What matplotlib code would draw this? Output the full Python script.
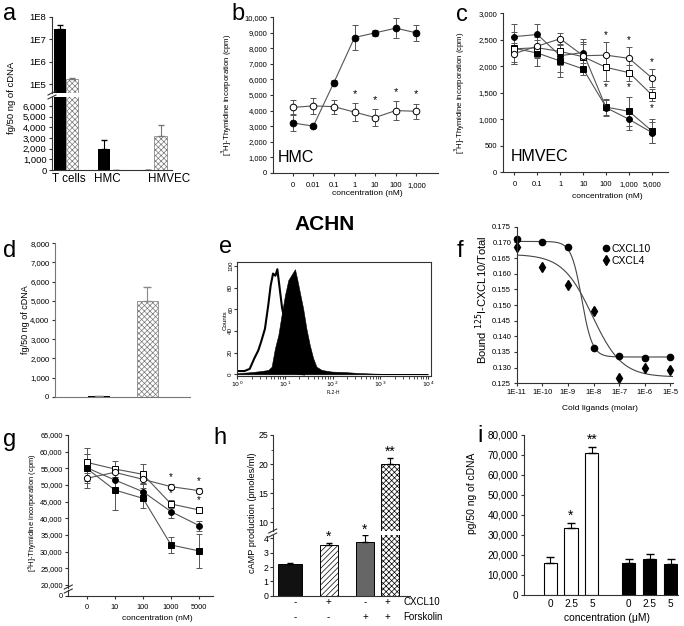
import numpy as np
import matplotlib
matplotlib.use("Agg")
import matplotlib.pyplot as plt
from matplotlib.lines import Line2D
from matplotlib.ticker import FixedLocator, NullFormatter

###########################
# Data
###########################

# a: receptor transcripts (black / hatched bars)
A_CATS = ['T cells', 'HMC', 'HMVEC']
A_BLACK = [2.8e7, 2000, 40]
A_BLACK_ERR = [1.7e7, 800, 0]
A_HATCH = [1.75e5, 40, 3200]
A_HATCH_ERR = [1.0e4, 0, 1050]

# b: HMC proliferation
B_CONC = ['0', '0.01', '0.1', '1', '10', '100', '1,000']
B_FILLED = [3200, 3000, 5800, 8700, 9000, 9300, 9000]
B_FILLED_ERR = [500, 100, 150, 800, 200, 650, 500]
B_OPEN = [4200, 4300, 4250, 3900, 3550, 4000, 3950]
B_OPEN_ERR = [450, 500, 450, 600, 550, 600, 500]
B_STARS = [3, 4, 5, 6]

# c: HMVEC proliferation
C_CONC = ['0', '0.1', '1', '10', '100', '1,000', '5,000']
C_OPEN_CIRC = [2240, 2380, 2520, 2200, 2210, 2150, 1780]
C_OPEN_CIRC_ERR = [200, 200, 100, 250, 250, 220, 170]
C_OPEN_SQ = [2330, 2350, 2280, 2180, 1980, 1880, 1460]
C_OPEN_SQ_ERR = [250, 200, 250, 250, 250, 150, 120]
C_FILL_CIRC = [2560, 2600, 2200, 2260, 1220, 1000, 750]
C_FILL_CIRC_ERR = [230, 200, 300, 250, 150, 200, 200]
C_FILL_SQ = [2340, 2250, 2100, 1950, 1230, 1150, 780]
C_FILL_SQ_ERR = [300, 250, 300, 120, 150, 280, 230]
C_STARS = [4, 5, 6]

# d: ACHN transcripts
D_VALUES = [60, 5000]
D_ERR = [0, 700]

# e: flow cytometry histograms (log10 FL2-H, counts)
E_LOG_OPEN = [0.0, 0.15, 0.26, 0.36, 0.44, 0.50, 0.58, 0.65, 0.70, 0.75, 0.80,
              0.84, 0.89, 0.94, 1.00, 1.07, 1.14, 1.25, 1.40]
E_CNT_OPEN = [3, 3, 5, 15, 22, 30, 42, 64, 82, 93, 91, 97, 79, 61, 49, 21, 5, 1, 0]
E_LOG_FILLED = [0.0, 0.3, 0.5, 0.65, 0.72, 0.79, 0.86, 0.93, 1.00, 1.07, 1.14,
                1.21, 1.26, 1.31, 1.38, 1.45, 1.52, 1.59, 1.66, 1.77, 1.98,
                2.27, 2.54, 2.90, 3.24, 3.60, 4.0]
E_CNT_FILLED = [1, 2, 3, 4, 7, 24, 36, 55, 73, 87, 92, 97, 87, 76, 61, 42, 27,
                15, 7, 4, 2.5, 2, 1.2, 0.6, 0.3, 0.1, 0]

# f: competition binding
F_CONC = [1e-11, 1e-10, 1e-9, 1e-8, 1e-7, 1e-6, 1e-5]
F_CXCL10 = [0.1710, 0.1702, 0.1684, 0.1362, 0.1338, 0.1332, 0.1335]
F_CXCL4 = [0.1684, 0.1620, 0.1563, 0.1482, 0.1266, 0.1298, 0.1291]
# fitted 4PL parameters: top, bottom, logEC50, hill
F_FIT_CXCL10 = (0.1703, 0.1334, -8.46, 2.1)
F_FIT_CXCL4 = (0.1662, 0.1270, -8.05, 0.75)

# g: ACHN proliferation
G_CONC = ['0', '10', '100', '1000', '5000']
G_OPEN_CIRC = [52000, 53800, 51700, 49500, 48300]
G_OPEN_CIRC_ERR = [1500, 1500, 1500, 800, 800]
G_OPEN_SQ = [56800, 54800, 53200, 44300, 42500]
G_OPEN_SQ_ERR = [2500, 2500, 3000, 1200, 800]
G_FILL_CIRC = [55200, 51500, 48000, 42000, 37800]
G_FILL_CIRC_ERR = [4000, 3000, 2500, 2000, 1500]
G_FILL_SQ = [55000, 48500, 46000, 32000, 30200]
G_FILL_SQ_ERR = [6000, 6000, 3000, 2500, 5200]
G_STARS = [3, 4]

# h: cAMP
H_CAMP = [2.2, 3.5, 3.75, 20.1]
H_ERR = [0.08, 0.2, 0.45, 1.0]
H_CXCL10 = ['-', '+', '-', '+']
H_FORSKOLIN = ['-', '-', '+', '+']
H_STARS = ['', '*', '*', '**']

# i: transcripts vs concentration
I_LABELS = ['0', '2.5', '5', '0', '2.5', '5']
I_VALUES = [16000, 33500, 71000, 16000, 18000, 15500]
I_ERR = [3000, 2500, 3000, 2200, 2500, 2500]
I_STARS = ['', '*', '**', '', '', '']

###########################
# Setup
###########################

W, H = 684, 626
plt.rcParams.update({
    'font.family': ['Liberation Sans', 'DejaVu Sans'],
    'hatch.linewidth': 0.5,
    'axes.linewidth': 0.8,
    'axes.edgecolor': '#333333',
    'xtick.color': '#333333',
    'ytick.color': '#333333',
    'xtick.labelcolor': 'black',
    'ytick.labelcolor': 'black',
    'xtick.major.size': 3,
    'ytick.major.size': 3,
    'xtick.major.width': 0.8,
    'ytick.major.width': 0.8,
})

fig = plt.figure(figsize=(W / 100, H / 100), dpi=100)
LINE = '#555555'


def add_ax(left, top, right, bottom):
    return fig.add_axes([left / W, 1 - bottom / H, (right - left) / W, (bottom - top) / H])


def ftext(x, y, s, **kw):
    kw.setdefault('ha', 'center')
    kw.setdefault('va', 'center')
    fig.text(x / W, 1 - y / H, s, **kw)


def brk(x, y):
    for dy in (-2, 2):
        fig.add_artist(Line2D([(x - 4) / W, (x + 4) / W],
                              [1 - (y + dy + 2) / H, 1 - (y + dy - 2) / H],
                              color='#333333', lw=0.8))


def clean(ax, bottom=True):
    ax.spines['top'].set_visible(False)
    ax.spines['right'].set_visible(False)
    if not bottom:
        ax.spines['bottom'].set_visible(False)
        ax.tick_params(axis='x', bottom=False, labelbottom=False)
    ax.patch.set_alpha(0)


def series(ax, x, y, err, marker, filled, ms):
    ax.errorbar(x, y, yerr=err, color=LINE, lw=0.8, elinewidth=0.7, capsize=2,
                capthick=0.7, marker=marker, ms=ms,
                mfc='black' if filled else 'white', mec='black', mew=0.7)


###########################
# a
###########################

ax_up = add_ax(52, 17, 172, 93)
ax_lo = add_ax(52, 97, 172, 170)
xa = np.arange(len(A_CATS))
for ax in (ax_up, ax_lo):
    base = 1 if ax is ax_up else 0
    ax.bar(xa - 0.14, np.array(A_BLACK) - base, bottom=base, width=0.28, color='black')
    ax.bar(xa + 0.14, np.array(A_HATCH) - base, bottom=base, width=0.28, color='white',
           edgecolor='#777777', hatch='xxxxxx', lw=0.5)
    ax.errorbar(xa - 0.14, A_BLACK, yerr=[[0] * 3, A_BLACK_ERR], fmt='none',
                ecolor='black', elinewidth=0.8, capsize=2.5)
    ax.errorbar(xa + 0.14, A_HATCH, yerr=[[0] * 3, A_HATCH_ERR], fmt='none',
                ecolor='#777777', elinewidth=0.8, capsize=2.5)
    ax.set_xlim(-0.32, 2.4)
ax_up.set_yscale('log')
ax_up.set_ylim(4e4, 1e8)
ax_up.set_yticks([1e5, 1e6, 1e7, 1e8])
ax_up.set_yticklabels(['1E5', '1E6', '1E7', '1E8'])
ax_up.yaxis.set_minor_locator(FixedLocator([]))
clean(ax_up, bottom=False)
ax_lo.set_ylim(0, 6840)
ax_lo.set_yticks(range(0, 7000, 1000))
ax_lo.set_yticklabels([f'{v:,}' for v in range(0, 7000, 1000)])
ax_lo.set_xticks([0.05, 0.94, 2.34])
ax_lo.set_xticklabels(A_CATS, fontsize=8.4)
ax_lo.tick_params(axis='x', length=0, pad=2)
clean(ax_lo)
for ax in (ax_up, ax_lo):
    ax.tick_params(axis='y', labelsize=6.8, length=2.5, pad=1.5)
brk(52, 95)
ftext(12, 98, 'fg/50 ng of cDNA', rotation=90, fontsize=6.8)
ftext(10, 14, 'a', fontsize=17)

###########################
# b
###########################

ax = add_ax(272.7, 17.3, 438, 172.7)
xb = np.arange(len(B_CONC))
series(ax, xb, B_OPEN, B_OPEN_ERR, 'o', False, 4.8)
series(ax, xb, B_FILLED, B_FILLED_ERR, 'o', True, 4.8)
for i in B_STARS:
    ax.annotate('*', (xb[i], B_OPEN[i] + B_OPEN_ERR[i]), xytext=(0, 3),
                textcoords='offset points', ha='center', va='bottom', fontsize=8)
ax.set_xlim(-0.97, 7.05)
ax.set_ylim(0, 10000)
ax.set_xticks(xb)
ax.set_xticklabels(B_CONC)
ax.set_yticks(range(0, 10001, 1000))
ax.set_yticklabels([f'{v:,}' for v in range(0, 10001, 1000)])
ax.tick_params(labelsize=5.5, length=2.5, pad=1.5)
ax.tick_params(axis='x', pad=4)
clean(ax)
ax.text(0.03, 0.1, 'HMC', transform=ax.transAxes, fontsize=11.5, va='center')
ftext(227, 95, '[$^3$H]-Thymidine incorporation (cpm)', rotation=90, fontsize=5.6)
ftext(367, 194, 'concentration (nM)', fontsize=6)
ftext(238, 14, 'b', fontsize=17)

###########################
# c
###########################

ax = add_ax(502.7, 13.3, 668, 172.3)
xc = np.arange(len(C_CONC))
series(ax, xc, C_FILL_SQ, C_FILL_SQ_ERR, 's', True, 4)
series(ax, xc, C_FILL_CIRC, C_FILL_CIRC_ERR, 'o', True, 4.2)
series(ax, xc, C_OPEN_SQ, C_OPEN_SQ_ERR, 's', False, 4)
series(ax, xc, C_OPEN_CIRC, C_OPEN_CIRC_ERR, 'o', False, 4.5)
for i in C_STARS:
    ax.annotate('*', (xc[i], C_OPEN_CIRC[i] + C_OPEN_CIRC_ERR[i]), xytext=(0, 1.5),
                textcoords='offset points', ha='center', va='bottom', fontsize=7)
    ax.annotate('*', (xc[i], C_OPEN_SQ[i] - C_OPEN_SQ_ERR[i]), xytext=(0, -1),
                textcoords='offset points', ha='center', va='top', fontsize=7)
ax.set_xlim(-0.51, 6.7)
ax.set_ylim(0, 3000)
ax.set_xticks(xc)
ax.set_xticklabels(C_CONC)
ax.set_yticks(range(0, 3001, 500))
ax.set_yticklabels([f'{v:,}' for v in range(0, 3001, 500)])
ax.tick_params(labelsize=5.5, length=2.5, pad=1.5)
ax.tick_params(axis='x', pad=4)
clean(ax)
ax.text(0.05, 0.1, 'HMVEC', transform=ax.transAxes, fontsize=11.5, va='center')
ftext(460, 93, '[$^3$H]-Thymidine incorporation (cpm)', rotation=90, fontsize=5.6)
ftext(607, 197, 'concentration (nM)', fontsize=6)
ftext(462, 15, 'c', fontsize=17)

###########################
# ACHN title
###########################

ftext(325, 225, 'ACHN', fontsize=15, fontweight='bold')

###########################
# d
###########################

ax = add_ax(55, 243.3, 190, 396.7)
xd = np.arange(len(D_VALUES))
ax.bar(xd[0], D_VALUES[0], width=0.45, color='black')
ax.bar(xd[1], D_VALUES[1], width=0.43, color='white', edgecolor='#777777',
       hatch='xxxxxx', lw=0.5)
ax.errorbar(xd, D_VALUES, yerr=[[0, 0], D_ERR], fmt='none', ecolor='#888888',
            elinewidth=0.8, capsize=3)
ax.set_xlim(-0.89, 1.87)
ax.set_ylim(0, 8000)
ax.set_xticks([])
ax.set_yticks(range(0, 8001, 1000))
ax.set_yticklabels([f'{v:,}' for v in range(0, 8001, 1000)])
ax.tick_params(labelsize=5.6, length=2.5, pad=1.5)
ax.spines['left'].set_color('#777777')
ax.spines['bottom'].set_color('#777777')
clean(ax)
ftext(25, 320, 'fg/50 ng of cDNA', rotation=90, fontsize=6.5)
ftext(10, 251, 'd', fontsize=17)

###########################
# e
###########################

ax = add_ax(237.3, 262.3, 430.7, 375.7)
ax.fill_between(10 ** np.array(E_LOG_FILLED), E_CNT_FILLED, color='black', lw=0.4)
ax.plot(10 ** np.array(E_LOG_OPEN), E_CNT_OPEN, color='black', lw=1.5)
ax.set_xscale('log')
ax.set_xlim(1, 1.14e4)
ax.set_ylim(-1.3, 103.4)
ax.set_xticks([1, 10, 100, 1000, 10000])
ax.set_xticklabels(['$10^0$', '$10^1$', '$10^2$', '$10^3$', '$10^4$'])
ax.set_yticks(range(0, 101, 20))
ax.tick_params(labelsize=4.5, length=2, pad=1)
ax.tick_params(axis='y', labelrotation=90)
for lab in ax.get_yticklabels():
    lab.set_va('center')
ftext(225, 320, 'Counts', rotation=90, fontsize=4.5)
ftext(333, 393, 'FL2-H', fontsize=3.5)
ftext(226, 247, 'e', fontsize=17)

###########################
# f
###########################

ax = add_ax(516.7, 226.7, 673.3, 383.3)
xs = np.logspace(-11, np.log10(1.3e-5), 300)
for top, bottom, logec, hill in (F_FIT_CXCL10, F_FIT_CXCL4):
    ax.plot(xs, bottom + (top - bottom) / (1 + 10 ** ((np.log10(xs) - logec) * hill)),
            color='#444444', lw=0.8)
h10, = ax.plot(F_CONC, F_CXCL10, 'o', color='black', ms=4.5, clip_on=False)
h4, = ax.plot(F_CONC, F_CXCL4, 'd', color='black', ms=5.5, clip_on=False)
ax.set_xscale('log')
ax.set_xlim(1e-11, 1.3e-5)
ax.set_ylim(0.125, 0.175)
ax.set_xticks(F_CONC)
ax.set_xticklabels(['1E-11', '1E-10', '1E-9', '1E-8', '1E-7', '1E-6', '1E-5'])
ax.xaxis.set_minor_formatter(NullFormatter())
ax.tick_params(axis='x', which='minor', length=1.5, width=0.5)
yt = np.arange(0.125, 0.1751, 0.005)
ax.set_yticks(yt)
ax.set_yticklabels([f'{v:.3f}' for v in yt])
ax.tick_params(labelsize=5.5, length=2.5, pad=1.5)
clean(ax)
ax.legend([h10, h4], ['CXCL10', 'CXCL4'], loc='upper left',
          bbox_to_anchor=(603 / W, 1 - 244 / H), bbox_transform=fig.transFigure,
          frameon=False, fontsize=7.5, handlelength=0.6, handletextpad=0.2,
          borderpad=0, labelspacing=0.15, borderaxespad=0)
ftext(482, 300, 'Bound $^{125}$I-CXCL10/Total', rotation=90, fontsize=8)
ftext(600, 409, 'Cold ligands (molar)', fontsize=6)
ftext(460, 251, 'f', fontsize=17)

###########################
# g
###########################

ax_up = add_ax(68.3, 435, 213.3, 588.3)
ax_lo = add_ax(68.3, 590, 213.3, 596)
xg = np.arange(len(G_CONC))
series(ax_up, xg, G_FILL_SQ, G_FILL_SQ_ERR, 's', True, 4)
series(ax_up, xg, G_FILL_CIRC, G_FILL_CIRC_ERR, 'o', True, 4.2)
series(ax_up, xg, G_OPEN_SQ, G_OPEN_SQ_ERR, 's', False, 4)
series(ax_up, xg, G_OPEN_CIRC, G_OPEN_CIRC_ERR, 'o', False, 4.5)
for i in G_STARS:
    ax_up.annotate('*', (xg[i], G_OPEN_CIRC[i] + G_OPEN_CIRC_ERR[i]), xytext=(0, 1.5),
                   textcoords='offset points', ha='center', va='bottom', fontsize=7)
    ax_up.annotate('*', (xg[i], G_OPEN_SQ[i] + G_OPEN_SQ_ERR[i]), xytext=(0, 1.5),
                   textcoords='offset points', ha='center', va='bottom', fontsize=7)
for ax in (ax_up, ax_lo):
    ax.set_xlim(-0.65, 4.5)
ax_up.set_ylim(19000, 65000)
ax_up.set_yticks(range(20000, 65001, 5000))
ax_up.set_yticklabels([f'{v:,}' for v in range(20000, 65001, 5000)])
clean(ax_up, bottom=False)
ax_lo.set_ylim(0, 2000)
ax_lo.set_yticks([0])
ax_lo.set_xticks(xg)
ax_lo.set_xticklabels(G_CONC)
clean(ax_lo)
for ax in (ax_up, ax_lo):
    ax.tick_params(labelsize=5.3, length=2.5, pad=1.5)
ax_lo.tick_params(axis='x', pad=3)
brk(68.3, 589)
ftext(33, 513, '[$^3$H]-Thymidine incorporation (cpm)', rotation=90, fontsize=5.4)
ftext(157, 618, 'concentration (nM)', fontsize=6)
ftext(10, 440, 'g', fontsize=17)

###########################
# h
###########################

ax_up = add_ax(272.7, 435, 410, 531)
ax_lo = add_ax(272.7, 535, 410, 595.7)
xh = [17.3, 56.3, 92.3, 117.3]
wh = [24, 18, 18, 18]
fc = ['#111111', 'white', '#666666', 'white']
hatches = [None, '//////', None, 'xxxxxx']
for ax in (ax_up, ax_lo):
    for x, v, w, c, ht in zip(xh, H_CAMP, wh, fc, hatches):
        ax.bar(x, v, width=w, color=c, edgecolor='black', hatch=ht, lw=0.7)
    ax.errorbar(xh, H_CAMP, yerr=[[0] * 4, H_ERR], fmt='none', ecolor='black',
                elinewidth=0.8, capsize=2.5)
    ax.set_xlim(0, 137.3)
for x, v, e, s in zip(xh, H_CAMP, H_ERR, H_STARS):
    target = ax_up if v > 8.5 else ax_lo
    if s:
        target.annotate(s, (x, v + e), xytext=(0, -1), textcoords='offset points',
                        ha='center', va='bottom', fontsize=10, annotation_clip=False)
ax_up.set_ylim(8.5, 25)
ax_up.set_yticks([10, 15, 20, 25])
ax_up.yaxis.set_minor_locator(FixedLocator([12.5, 17.5, 22.5]))
ax_up.tick_params(axis='y', which='minor', length=1.5)
clean(ax_up, bottom=False)
ax_lo.set_ylim(0, 4.23)
ax_lo.set_yticks([0, 1, 2, 3, 4])
ax_lo.set_xticks([])
clean(ax_lo)
for ax in (ax_up, ax_lo):
    ax.tick_params(labelsize=6.3, length=2.2, pad=1.0)
brk(272.7, 533)
for x, s1, s2 in zip([295, 328, 365, 387], H_CXCL10, H_FORSKOLIN):
    ftext(x, 602, s1, fontsize=7)
    ftext(x, 617, s2, fontsize=7)
ftext(403, 602, 'CXCL10', fontsize=7, ha='left')
ftext(403, 617, 'Forskolin', fontsize=7, ha='left')
ftext(252.5, 513, 'cAMP production (pmoles/ml)', rotation=90, fontsize=6.6)
ftext(220, 438, 'h', fontsize=17)

###########################
# i
###########################

ax = add_ax(524, 435, 678, 595)
xi = np.array([0, 1, 2, 3.76, 4.76, 5.76])
ax.bar(xi, I_VALUES, width=0.62, color=['white'] * 3 + ['black'] * 3,
       edgecolor='black', lw=0.8)
ax.errorbar(xi, I_VALUES, yerr=[[0] * 6, I_ERR], fmt='none', ecolor='black',
            elinewidth=0.8, capsize=3)
for x, v, e, s in zip(xi, I_VALUES, I_ERR, I_STARS):
    if s:
        ax.annotate(s, (x, v + e), xytext=(0, 0), textcoords='offset points',
                    ha='center', va='bottom', fontsize=10)
ax.set_xlim(-1.24, 6.1)
ax.set_ylim(0, 80000)
ax.set_xticks(xi)
ax.set_xticklabels(I_LABELS)
ax.set_yticks(range(0, 80001, 10000))
ax.set_yticklabels([f'{v:,}' for v in range(0, 80001, 10000)])
ax.tick_params(labelsize=7.2, length=2.5, pad=1.5)
ax.tick_params(axis='x', length=0, pad=3)
clean(ax)
ftext(472, 493, 'pg/50 ng of cDNA', rotation=90, fontsize=7.4)
ftext(607, 618, 'concentration (\u03bcM)', fontsize=7.4)
ftext(480, 436, 'i', fontsize=17)

fig.savefig('out.png', dpi=100)
